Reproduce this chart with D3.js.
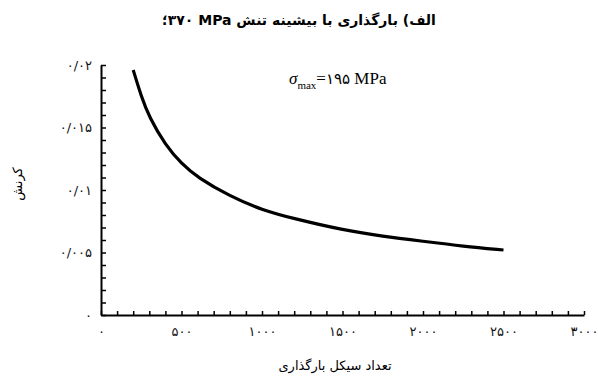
<!DOCTYPE html>
<html lang="fa">
<head>
<meta charset="utf-8">
<script src="https://cdn.jsdelivr.net/npm/d3@7/dist/d3.min.js"></script>
<style>
  html, body { margin: 0; padding: 0; background: #fff; }
  svg { display: block; }
  .fa { font-family: "DejaVu Sans", "Noto Sans", sans-serif; }
  .axis path, .axis line { stroke: #000; }
  .axis path { stroke-width: 2; }
  .axis line { stroke-width: 1.5; }
  .axis text { font-family: "DejaVu Sans", sans-serif; font-size: 13px; fill: #111; }
</style>
</head>
<body>
<svg id="chart" width="598" height="380"></svg>
<script>
// Loading cycles and measured strain (max stress 195 MPa)
const cycles = [200, 250, 300, 400, 500, 600, 800, 1000, 1200, 1500, 1750, 2000, 2250, 2500];
const strain = [0.0196, 0.0175, 0.0158, 0.0136, 0.0121, 0.0110, 0.0095, 0.0084, 0.0077, 0.0068, 0.0063, 0.0059, 0.0055, 0.0052];

// Major tick values and their Persian labels
const xTickValues = [0, 500, 1000, 1500, 2000, 2500, 3000];
const xTickLabels = ["۰", "۵۰۰", "۱۰۰۰", "۱۵۰۰", "۲۰۰۰", "۲۵۰۰", "۳۰۰۰"];
const yTickValues = [0, 0.005, 0.01, 0.015, 0.02];
const yTickLabels = ["۰", "۰/۰۰۵", "۰/۰۱", "۰/۰۱۵", "۰/۰۲"];

const titleText = "الف) بارگذاری با بیشینه تنش MPa \u200F۳۷۰؛";
const xTitle = "تعداد سیکل بارگذاری";
const yTitle = "کرنش";

const svg = d3.select("#chart");

const x = d3.scaleLinear().domain([0, 3000]).range([101, 584]);
const y = d3.scaleLinear().domain([0, 0.02]).range([315, 65]);

// Minor ticks every 100 cycles / 0.001 strain, labels only on majors
const xMinor = d3.range(0, 3001, 100);
const yMinor = d3.range(0, 21, 1).map(d => d / 1000);

function labelFor(values, labels) {
  return d => {
    const i = values.findIndex(v => Math.abs(v - d) < 1e-9);
    return i >= 0 ? labels[i] : "";
  };
}

svg.append("g")
  .attr("class", "axis")
  .attr("transform", `translate(0,${y(0)})`)
  .call(d3.axisBottom(x)
    .tickValues(xMinor)
    .tickSizeInner(-4)
    .tickSizeOuter(0)
    .tickPadding(12)
    .tickFormat(labelFor(xTickValues, xTickLabels)));

svg.append("g")
  .attr("class", "axis")
  .attr("transform", `translate(${x(0)},0)`)
  .call(d3.axisLeft(y)
    .tickValues(yMinor)
    .tickSizeInner(-5)
    .tickSizeOuter(0)
    .tickPadding(9)
    .tickFormat(labelFor(yTickValues, yTickLabels)));

// Strain curve
const line = d3.line()
  .x((d, i) => x(cycles[i]))
  .y(d => y(d))
  .curve(d3.curveBasis);

svg.append("path")
  .datum(strain)
  .attr("d", line)
  .attr("fill", "none")
  .attr("stroke", "#000")
  .attr("stroke-width", 3.2);

// Title
svg.append("text")
  .attr("class", "fa")
  .attr("x", 299)
  .attr("y", 25)
  .attr("text-anchor", "middle")
  .attr("direction", "rtl")
  .style("font-size", "14px")
  .style("font-weight", "bold")
  .text(titleText);

// Axis titles
svg.append("text")
  .attr("class", "fa")
  .attr("x", 335)
  .attr("y", 370)
  .attr("text-anchor", "middle")
  .attr("direction", "rtl")
  .style("font-size", "13px")
  .text(xTitle);

svg.append("text")
  .attr("class", "fa")
  .attr("transform", "translate(22,184) rotate(-90)")
  .attr("text-anchor", "middle")
  .attr("direction", "rtl")
  .style("font-size", "13px")
  .text(yTitle);

// Stress annotation
const ann = svg.append("text")
  .attr("x", 289)
  .attr("y", 84)
  .style("font-family", "'Liberation Serif', 'DejaVu Serif', serif")
  .style("font-size", "17px");
ann.append("tspan").style("font-style", "italic").text("σ");
ann.append("tspan").attr("dy", 5).style("font-size", "11px").text("max");
ann.append("tspan").attr("dy", -5).text("=");
ann.append("tspan").style("font-family", "'DejaVu Sans', sans-serif").style("font-size", "15px").text("۱۹۵");
ann.append("tspan").text(" MPa");
</script>
</body>
</html>
